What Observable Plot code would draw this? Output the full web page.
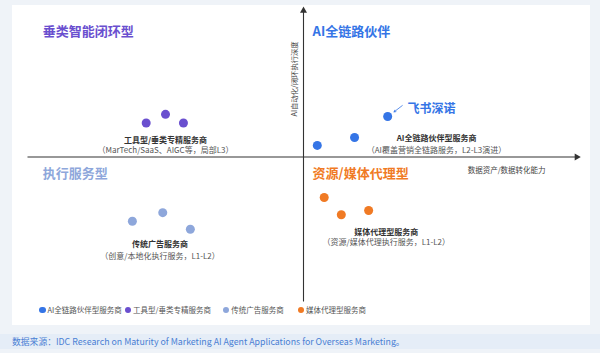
<!DOCTYPE html>
<html>
<head>
<meta charset="utf-8">
<script src="https://cdn.jsdelivr.net/npm/d3@7"></script>
<script src="https://cdn.jsdelivr.net/npm/@observablehq/plot@0.6"></script>
<style>
  html, body { margin: 0; padding: 0; width: 600px; height: 353px; overflow: hidden; background: #eff3f8; font-family: "Noto Sans CJK SC", "Noto Sans", sans-serif; }
  #panel { position: absolute; left: 12px; top: 5px; width: 578px; height: 320px; background: #ffffff; }
  #chart { position: absolute; left: 0; top: 0; }
  #legend { position: absolute; top: 303px; left: 0; height: 14px; font-size: 7.5px; color: #555; }
  #legend .item { position: absolute; white-space: nowrap; display: flex; align-items: center; line-height: 14px; }
  #legend .sw { display: inline-block; width: 6.5px; height: 6.5px; border-radius: 50%; margin-right: 2px; }
  #srcband { position: absolute; left: 0; top: 334px; width: 600px; height: 15px; background: #e5edf7; }
  #source { position: absolute; left: 12px; top: 334px; font-size: 8.8px; line-height: 15px; color: #4a7fd4; white-space: nowrap; }
</style>
</head>
<body>
<div id="panel"></div>
<div id="srcband"></div>
<div id="chart"></div>
<div id="legend"></div>
<div id="source"></div>
<script>
// ---- data ----
const groups = ["AI全链路伙伴型服务商", "工具型/垂类专精服务商", "传统广告服务商", "媒体代理型服务商"];
const groupColors = ["#3575e6", "#6a4fcf", "#8ea7db", "#f07a24"];

const aiPartnerX = [5, 18.5, 30.5];
const aiPartnerY = [8, 13.5, 28];
const toolX = [-57, -50, -43.5];
const toolY = [23.5, 29.5, 23.5];
const tradX = [-62, -51, -41];
const tradY = [-44.5, -38.5, -50];
const mediaX = [7.5, 13.7, 23.6];
const mediaY = [-28, -40, -37];

const quadrantTitles = ["垂类智能闭环型", "AI全链路伙伴", "执行服务型", "资源/媒体代理型"];
const quadrantTitleX = [-94.5, 3.3, -94.5, 3.3];
const quadrantTitleY = [86.5, 86.8, -11.6, -11.4];

const groupLabels = ["AI全链路伙伴型服务商", "工具型/垂类专精服务商", "传统广告服务商", "媒体代理型服务商"];
const groupSubLabels = ["（AI覆盖营销全链路服务，L2-L3演进）", "（MarTech/SaaS、AIGC等，局部L3）", "（创意/本地化执行服务，L1-L2）", "（资源/媒体代理执行服务，L1-L2）"];
const groupLabelX = [48.2, -50, -52, 30];
const groupLabelY = [13, 11.4, -60.8, -52];
const groupSubLabelY = [4.5, 4.2, -68.7, -59.4];

const highlightName = "飞书深诺";
const highlightX = 37.7, highlightY = 33.4;

const xAxisLabel = "数据资产/数据转化能力";
const yAxisLabel = "AI自动化/闭环执行深度";
const sourceText = "数据来源：IDC Research on Maturity of Marketing AI Agent Applications for Overseas Marketing。";

// ---- build tables ----
const xsList = [aiPartnerX, toolX, tradX, mediaX];
const ysList = [aiPartnerY, toolY, tradY, mediaY];
const points = [];
groups.forEach((g, gi) => xsList[gi].forEach((x, i) => points.push({group: g, x, y: ysList[gi][i]})));

const titles = quadrantTitles.map((t, i) => ({t, x: quadrantTitleX[i], y: quadrantTitleY[i], c: groupColors[[1,0,2,3][i]]}));
const labels = groupLabels.map((t, i) => ({t, sub: groupSubLabels[i], x: groupLabelX[i], y: groupLabelY[i], sy: groupSubLabelY[i]}));

const colorScale = {domain: groups, range: groupColors};
const axisColor = "#333";

const chart = Plot.plot({
  width: 600,
  height: 353,
  margin: 0,
  style: {background: "transparent", fontFamily: "'Noto Sans CJK SC', sans-serif"},
  x: {domain: [-100, 100], range: [27, 579], axis: null},
  y: {domain: [-100, 100], range: [301, 12], axis: null},
  color: colorScale,
  marks: [
    // axes
    Plot.link([{x1: -100, y1: 0, x2: 98.5, y2: 0}], {x1: "x1", y1: "y1", x2: "x2", y2: "y2", stroke: axisColor, strokeWidth: 1.1}),
    Plot.link([{x1: 0, y1: -100, x2: 0, y2: 100.5}], {x1: "x1", y1: "y1", x2: "x2", y2: "y2", stroke: axisColor, strokeWidth: 1.1}),
    Plot.dot([{x: 99, y: 0}], {x: "x", y: "y", symbol: "triangle", r: 2.6, fill: axisColor, rotate: 90}),
    Plot.dot([{x: 0, y: 101.3}], {x: "x", y: "y", symbol: "triangle", r: 2.6, fill: axisColor}),
    Plot.text([xAxisLabel], {x: 73.6, y: -9.3, text: d => d, fontSize: 7.5, fill: "#444"}),
    Plot.text([yAxisLabel], {x: -3.3, y: 54, text: d => d, fontSize: 7.3, fill: "#444", rotate: -90}),
    // quadrant titles
    Plot.text(titles, {x: "x", y: "y", text: "t", fill: "c", fontSize: 13, fontWeight: "bold", textAnchor: "start"}),
    // group labels
    Plot.text(labels, {x: "x", y: "y", text: "t", fontSize: 8, fontWeight: "bold", fill: "#333"}),
    Plot.text(labels, {x: "x", y: "sy", text: "sub", fontSize: 8, fill: "#555"}),
    // points
    Plot.dot(points, {x: "x", y: "y", fill: "group", r: 4.5}),
    // highlight
    Plot.arrow([{x1: 35.8, y1: 35.6, x2: 32.8, y2: 31.2}], {x1: "x1", y1: "y1", x2: "x2", y2: "y2", stroke: "#3575e6", strokeWidth: 0.8, headLength: 3.5}),
    Plot.text([highlightName], {x: highlightX, y: highlightY, text: d => d, fill: "#3575e6", fontSize: 12, fontWeight: "bold", textAnchor: "start"})
  ]
});
document.getElementById("chart").appendChild(chart);

// legend
const legendLeft = [39, 124.5, 222.7, 297.5];
const leg = document.getElementById("legend");
groups.forEach((g, i) => {
  const item = document.createElement("div");
  item.className = "item";
  item.style.left = legendLeft[i] + "px";
  item.innerHTML = `<span class="sw" style="background:${groupColors[i]}"></span>${g}`;
  leg.appendChild(item);
});
document.getElementById("source").textContent = sourceText;
</script>
</body>
</html>
